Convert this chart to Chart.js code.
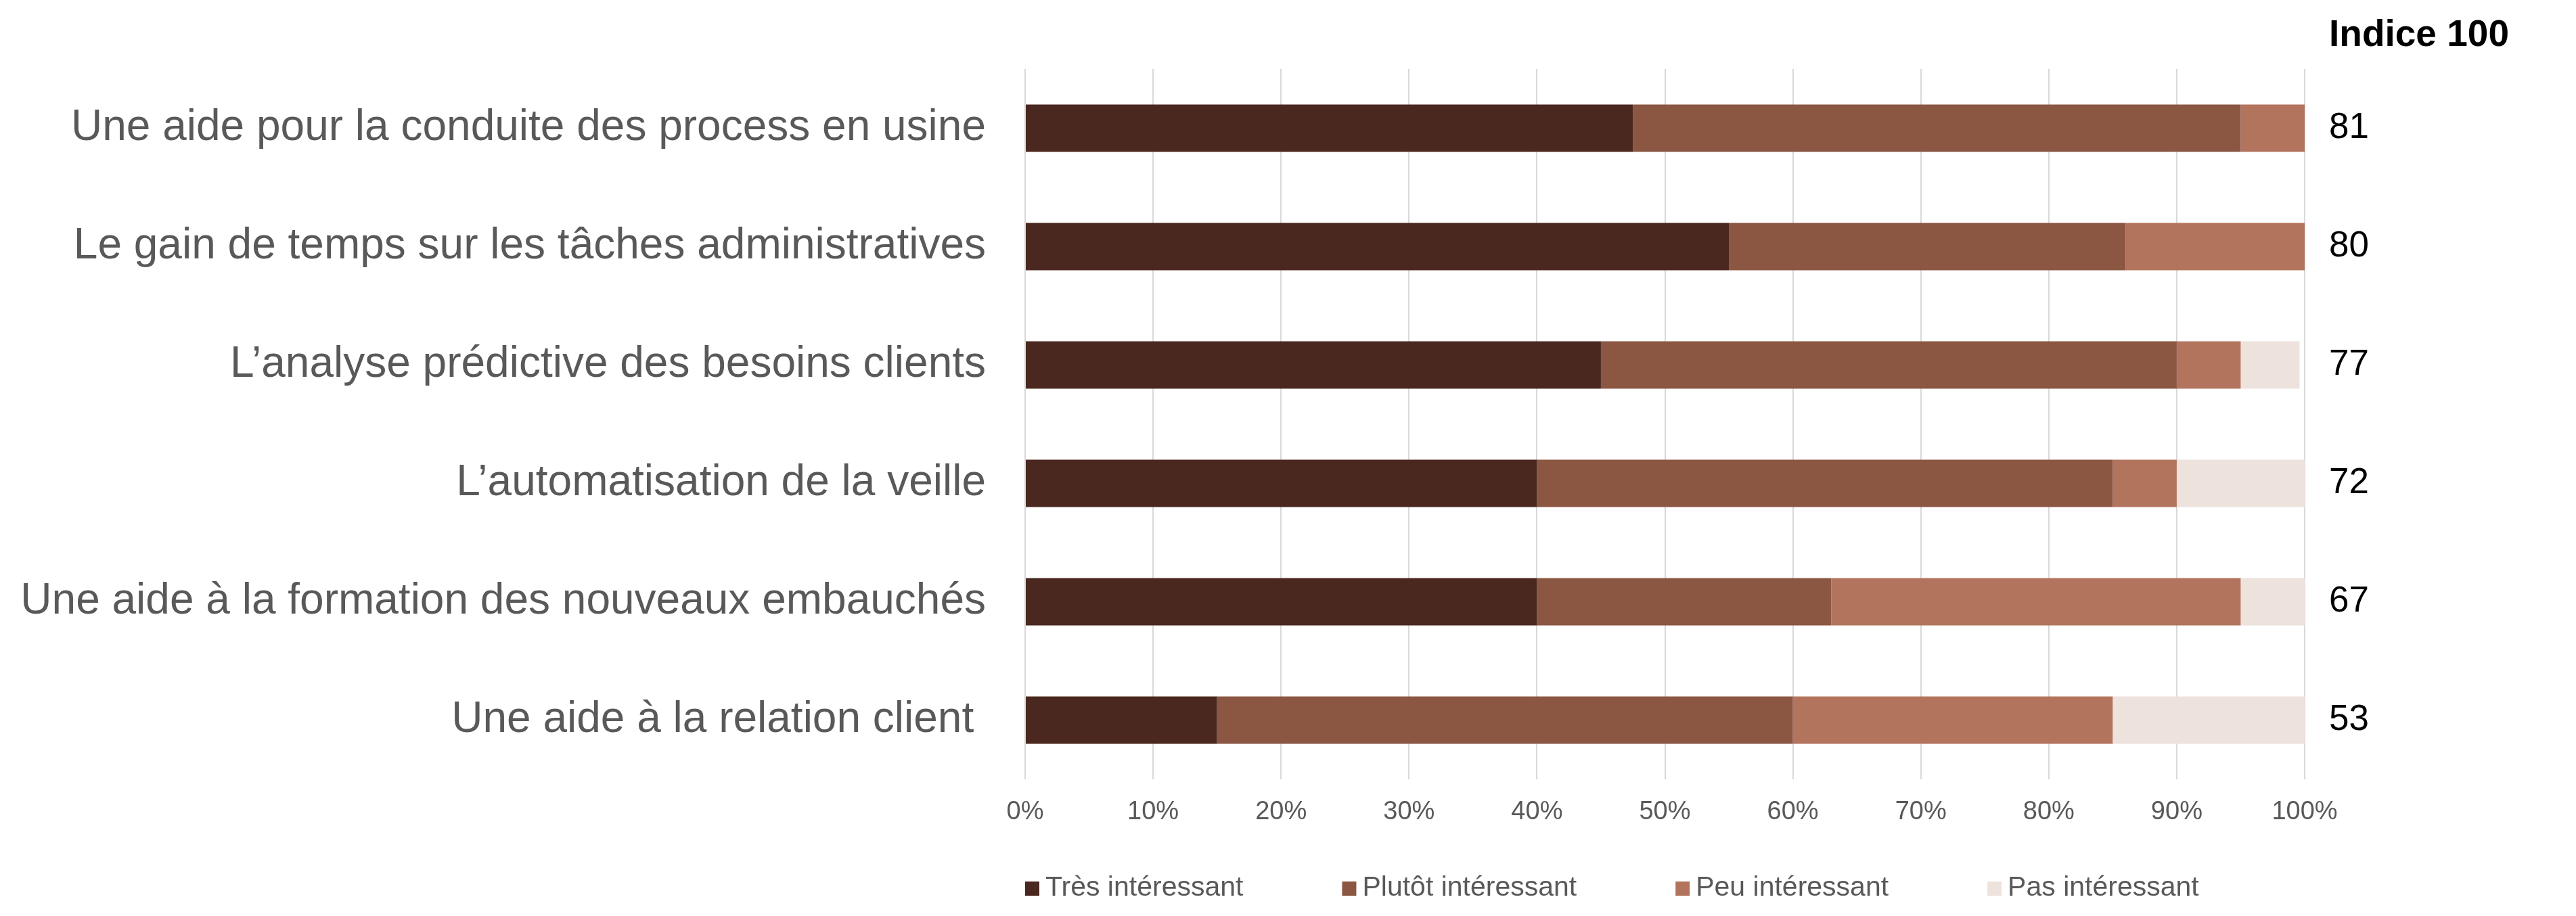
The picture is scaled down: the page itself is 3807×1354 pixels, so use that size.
<!DOCTYPE html>
<html>
<head>
<meta charset="utf-8">
<script src="https://cdn.jsdelivr.net/npm/chart.js@4"></script>
<style>
  html, body { margin: 0; padding: 0; background: #fff; }
  #zone { width: 3807px; height: 1354px; }
</style>
</head>
<body>
<div id="zone"><canvas id="graficoIA" width="3807" height="1354"></canvas></div>
<script>
// Données
const categories = [
    'Une aide pour la conduite des process en usine',
    'Le gain de temps sur les tâches administratives',
    'L\u2019analyse prédictive des besoins clients',
    'L\u2019automatisation de la veille',
    'Une aide à la formation des nouveaux embauchés',
    'Une aide à la relation client '
];
const seriesNames = ['Très intéressant', 'Plutôt intéressant', 'Peu intéressant', 'Pas intéressant'];
const tresInteressant   = [47.5, 55, 45, 40, 40, 15];
const plutotInteressant = [47.5, 31, 45, 45, 23, 45];
const peuInteressant    = [5, 14, 5, 5, 32, 25];
const pasInteressant    = [0, 0, 4.6, 10, 5, 15];
const indice = [81, 80, 77, 72, 67, 53];
const indiceTitre = 'Indice 100';
const tickValues = [0, 10, 20, 30, 40, 50, 60, 70, 80, 90, 100];

const couleurs = ['#4A281F', '#8B5642', '#B3745D', '#EEE2DD'];
const police = '"Liberation Sans", Arial, sans-serif';
Chart.defaults.font.family = police;

// légende maison (alignée sous la zone de tracé comme dans Excel)
const legendeMaison = {
    id: 'legendeMaison',
    afterDraw(chart) {
        const ctx = chart.ctx;
        const zone = chart.chartArea;
        ctx.save();
        ctx.font = '41px ' + police;
        ctx.textBaseline = 'middle';
        let x = zone.left;
        const y = 1313;
        chart.data.datasets.forEach(ds => {
            ctx.fillStyle = ds.backgroundColor;
            ctx.fillRect(x, y - 10, 21, 21);
            x += 21 + 9;
            ctx.fillStyle = '#595959';
            ctx.fillText(ds.label, x, y);
            x += ctx.measureText(ds.label).width + 146;
        });
        ctx.restore();
    }
};

// colonne "Indice 100"
const colonneIndice = {
    id: 'colonneIndice',
    afterDraw(chart) {
        const ctx = chart.ctx;
        const zone = chart.chartArea;
        const yScale = chart.scales.y;
        const x = zone.right + 36;
        ctx.save();
        ctx.fillStyle = '#000';
        ctx.textBaseline = 'middle';
        ctx.textAlign = 'left';
        ctx.font = 'bold 55px ' + police;
        ctx.fillText(indiceTitre, x, 53);
        ctx.font = '53px ' + police;
        indice.forEach((v, i) => {
            ctx.fillText(String(v), x, yScale.getPixelForValue(i));
        });
        ctx.restore();
    }
};

const datasets = [tresInteressant, plutotInteressant, peuInteressant, pasInteressant].map((serie, i) => ({
    label: seriesNames[i],
    data: serie,
    backgroundColor: couleurs[i],
    borderWidth: 0,
    barPercentage: 0.4,
    categoryPercentage: 1
}));

new Chart(document.getElementById('graficoIA').getContext('2d'), {
    type: 'bar',
    data: { labels: categories, datasets: datasets },
    options: {
        indexAxis: 'y',
        responsive: false,
        animation: false,
        layout: { padding: { top: 102, right: 401, bottom: 0, left: 0 } },
        scales: {
            x: {
                stacked: true,
                min: 0,
                max: 100,
                afterBuildTicks: scale => { scale.ticks = tickValues.map(v => ({ value: v })); },
                afterFit: scale => { scale.height = 202; },
                grid: { color: '#D9D9D9', lineWidth: 2, drawTicks: false },
                border: { display: false },
                ticks: {
                    color: '#595959',
                    font: { size: 38 },
                    padding: 26,
                    callback: v => v + '%'
                }
            },
            y: {
                stacked: true,
                afterFit: scale => { scale.width = 1515; },
                grid: { display: false, drawTicks: false },
                border: { display: false },
                ticks: {
                    color: '#595959',
                    font: { size: 64 },
                    padding: 58
                }
            }
        },
        plugins: {
            legend: { display: false },
            tooltip: { enabled: false }
        }
    },
    plugins: [legendeMaison, colonneIndice]
});
</script>
</body>
</html>
